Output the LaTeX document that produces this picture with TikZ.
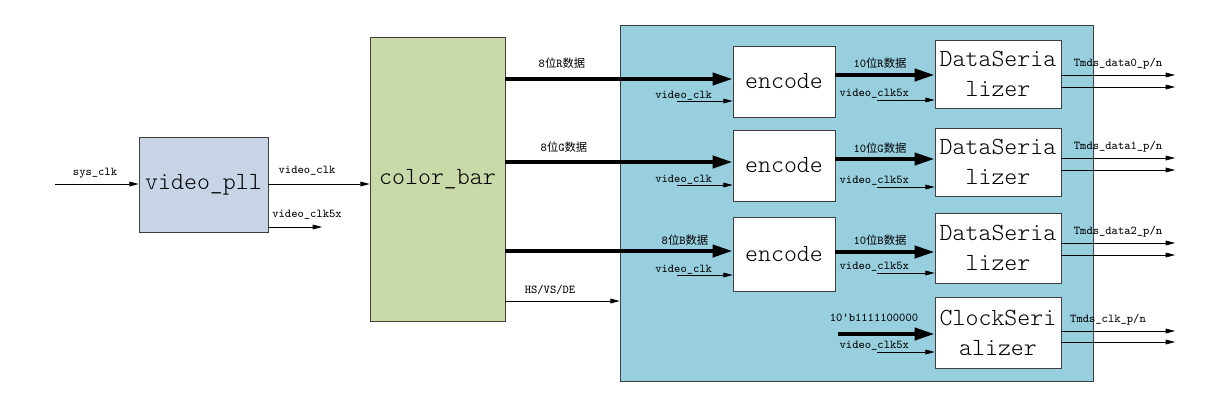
\documentclass[tikz,border=0pt]{standalone}
\usepackage{fontspec}
\newfontfamily\cjk{Noto Sans CJK SC}
\newfontfamily\thinmono{Latin Modern Mono Light}
\usetikzlibrary{arrows.meta,positioning}
\newcommand{\zh}[1]{{\cjk\fontsize{8.5}{10}\selectfont #1}}
\definecolor{pllfill}{RGB}{198,212,230}
\definecolor{barfill}{RGB}{201,218,168}
\definecolor{topfill}{RGB}{152,207,223}
\tikzset{
  blk/.style={draw=black!75, line width=0.6pt, fill=white, inner sep=0pt,
    align=center, font=\thinmono\fontsize{18.5}{22.5}\selectfont},
  bus/.style={line width=3pt, -{Triangle[length=15pt,width=9pt]}},
  sig/.style={line width=0.5pt, -{Triangle[length=7pt,width=3.6pt]}},
  lbl/.style={inner sep=0pt, font=\ttfamily\fontsize{9}{10}\selectfont},
}
\begin{document}
\begin{tikzpicture}[x=0.75pt, y=-0.75pt]
  \useasboundingbox (0,0) rectangle (1213,418);
  % blocks
  \node[blk, fill=topfill, minimum width=354.75pt, minimum height=267pt] (top) at (856.5,203) {};
  \node[blk, fill=pllfill, minimum width=96.75pt, minimum height=71.25pt] (pll) at (203.5,184.5) {video\_pll};
  \node[blk, fill=barfill, minimum width=101.25pt, minimum height=213pt] (bar) at (437.5,179) {color\_bar};
  \node[blk, minimum width=76.5pt, minimum height=53.25pt] (encR) at (784,81.5) {encode};
  \node[blk, minimum width=76.5pt, minimum height=53.25pt] (encG) at (784,165.5) {encode};
  \node[blk, minimum width=76.5pt, minimum height=55.5pt] (encB) at (784,254) {encode};
  \node[blk, minimum width=94.5pt, minimum height=51pt] (serR) at (998,74) {DataSeria\\lizer};
  \node[blk, minimum width=94.5pt, minimum height=51pt] (serG) at (998,162) {DataSeria\\lizer};
  \node[blk, minimum width=94.5pt, minimum height=52.5pt] (serB) at (998,248) {DataSeria\\lizer};
  \node[blk, minimum width=94.5pt, minimum height=53.25pt] (serC) at (998,332.5) {ClockSeri\\alizer};
  % free ends
  \coordinate (sysin) at (55,184);
  \coordinate (clk5out) at (322,227);
  \coordinate (busC) at (838,334);
  \foreach \n/\y in {R/101, G/185, B/275} \coordinate (clk\n) at (677,\y);
  \foreach \n/\y in {R/100, G/187, B/273, C/352} \coordinate (fast\n) at (877,\y);
  % pll and color_bar
  \draw[sig] (sysin) -- (sysin -| pll.west);
  \node[lbl] at (95,173) {sys\_clk};
  \draw[sig] (pll.east |- sysin) -- (sysin -| bar.west);
  \node[lbl] at (307,171) {video\_clk};
  \draw[sig] (pll.east |- clk5out) -- (clk5out);
  \node[lbl] at (307,215) {video\_clk5x};
  % 8 bit data
  \draw[bus] (bar.east |- 0,79) -- (encR.west |- 0,79);
  \node[lbl] at (562,63) {8\zh{位}R\zh{数据}};
  \draw[bus] (bar.east |- 0,162) -- (encG.west |- 0,162);
  \node[lbl] at (564,147) {8\zh{位}G\zh{数据}};
  \draw[bus] (bar.east |- 0,251) -- (encB.west |- 0,251);
  \node[lbl] at (685,240) {8\zh{位}B\zh{数据}};
  \draw[sig] (bar.east |- 0,301) -- (top.west |- 0,301);
  \node[lbl] at (550,290) {HS/VS/DE};
  \foreach \n in {R,G,B} {
    \draw[sig] (clk\n) -- (clk\n -| enc\n.west);
    \node[lbl, above=0.5pt of clk\n, xshift=5pt] {video\_clk};
  }
  % 10 bit data
  \draw[bus] (encR.east |- 0,75) -- (serR.west |- 0,75);
  \node[lbl] at (880,63) {10\zh{位}R\zh{数据}};
  \draw[bus] (encG.east |- 0,159) -- (serG.west |- 0,159);
  \node[lbl] at (880,148) {10\zh{位}G\zh{数据}};
  \draw[bus] (encB.east |- 0,252) -- (serB.west |- 0,252);
  \node[lbl] at (880,240) {10\zh{位}B\zh{数据}};
  \draw[bus] (busC) -- (busC -| serC.west);
  \node[lbl] at (874,318) {10'b1111100000};
  \foreach \n in {R,G,B,C} {
    \draw[sig] (fast\n) -- (fast\n -| ser\n.west);
    \node[lbl, above=1pt of fast\n, xshift=-2pt] {video\_clk5x};
  }
  % outputs
  \foreach \n/\ya/\yb/\t/\xl in {R/75/87/{Tmds\_data0\_p/n}/1118, G/158/170/{Tmds\_data1\_p/n}/1118,
      B/243/255/{Tmds\_data2\_p/n}/1118, C/331/342/{Tmds\_clk\_p/n}/1108} {
    \coordinate (outA\n) at (1175,\ya);
    \coordinate (outB\n) at (1175,\yb);
    \draw[sig] (outA\n -| ser\n.east) -- (outA\n);
    \draw[sig] (outB\n -| ser\n.east) -- (outB\n);
    \node[lbl] at (\xl,\ya-11) {\t};
  }
\end{tikzpicture}
\end{document}
